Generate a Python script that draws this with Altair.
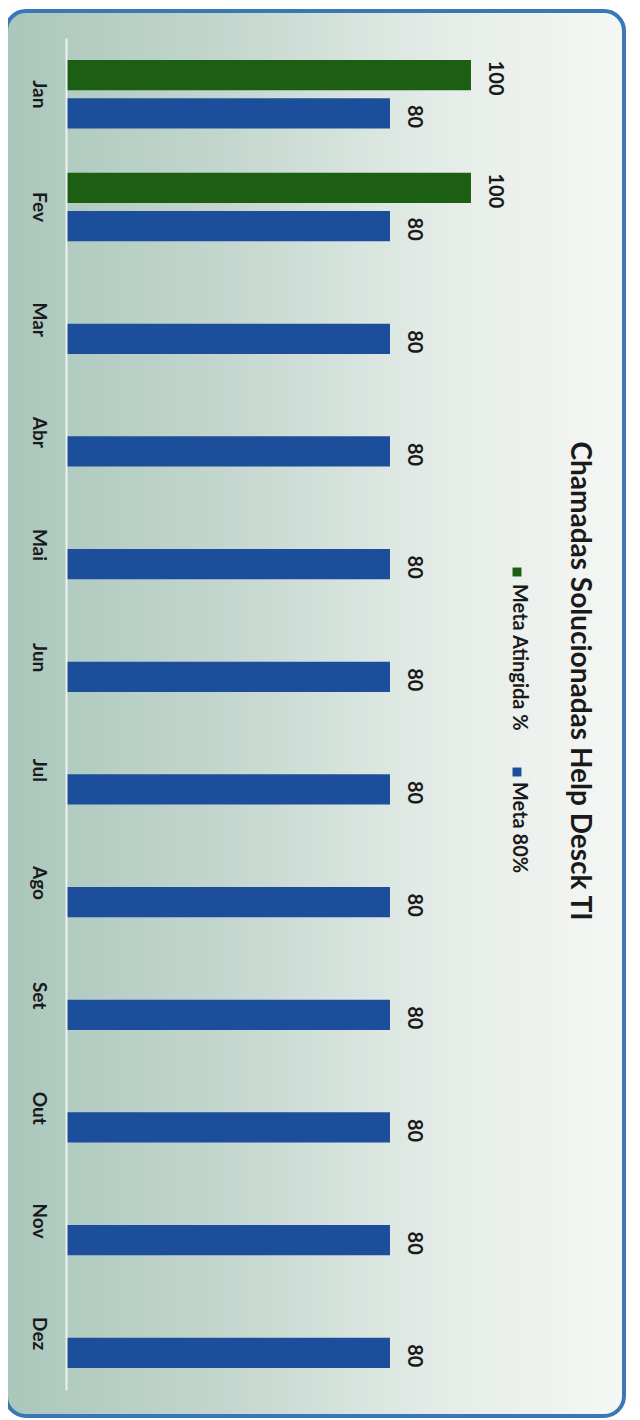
import altair as alt
import pandas as pd

# ---- data ----
months = ["Jan", "Fev", "Mar", "Abr", "Mai", "Jun", "Jul", "Ago", "Set", "Out", "Nov", "Dez"]
meta_atingida = [100, 100, None, None, None, None, None, None, None, None, None, None]
meta_80 = [80, 80, 80, 80, 80, 80, 80, 80, 80, 80, 80, 80]
series_names = ["Meta Atingida %", "Meta 80%"]
series_colors = ["#1c5e12", "#1d4e9c"]
title_text = "Chamadas Solucionadas Help Desck TI"

rows = []
for m, a, b in zip(months, meta_atingida, meta_80):
    if a is not None:
        rows.append({"mes": m, "serie": series_names[0], "valor": a})
    if b is not None:
        rows.append({"mes": m, "serie": series_names[1], "valor": b})
df = pd.DataFrame(rows)
one = pd.DataFrame({"k": [0]})

W, H = 554, 1352
FONT = "Lato"

y_enc = alt.Y("mes:N", sort=months,
              scale=alt.Scale(paddingInner=0.32, paddingOuter=0.16),
              axis=alt.Axis(title=None, labelAngle=90, labelAlign="center",
                            labelBaseline="top", labelPadding=19, ticks=False,
                            domainColor="#eef3f0", domainWidth=2, zindex=1,
                            labelFont=FONT, labelFontSize=19, labelFontWeight="bold",
                            labelColor="#1a1a1a", grid=False))
yoff_enc = alt.YOffset("serie:N", sort=series_names,
                       scale=alt.Scale(domain=series_names, paddingInner=0.21, paddingOuter=0.105))
x_enc = alt.X("valor:Q", scale=alt.Scale(domain=[0, 136.8], nice=False, zero=True), axis=None)
color_enc = alt.Color("serie:N", scale=alt.Scale(domain=series_names, range=series_colors), legend=None)

frame = alt.Chart(one).mark_rect(
    cornerRadius=20, stroke="#3a78b5", strokeWidth=4,
    fill=alt.LinearGradient(gradient="linear", x1=0, x2=1, y1=0, y2=0, stops=[
        alt.GradientStop(color="#aac7bb", offset=0),
        alt.GradientStop(color="#c3d6ce", offset=0.35),
        alt.GradientStop(color="#e4ece8", offset=0.7),
        alt.GradientStop(color="#f6f7f4", offset=1),
    ])
).encode(x=alt.value(-60), x2=alt.value(558), y=alt.value(-27), y2=alt.value(1378))

bars = alt.Chart(df).mark_bar().encode(y=y_enc, yOffset=yoff_enc, x=x_enc, color=color_enc)

labels = alt.Chart(df).mark_text(
    angle=90, align="center", baseline="bottom", dy=-14, dx=3,
    font=FONT, fontSize=20, fontWeight="bold", color="#1a1a1a"
).encode(y=y_enc, yOffset=yoff_enc, x=x_enc, text=alt.Text("valor:Q"))

title = alt.Chart(one).mark_text(
    angle=90, align="center", baseline="middle",
    font=FONT, fontSize=28, fontWeight="bold", color="#1a1a1a", text=title_text
).encode(x=alt.value(513), y=alt.value(643))

leg_sq1 = alt.Chart(one).mark_square(size=80, color=series_colors[0], opacity=1).encode(
    x=alt.value(451), y=alt.value(534))
leg_sq2 = alt.Chart(one).mark_square(size=80, color=series_colors[1], opacity=1).encode(
    x=alt.value(451), y=alt.value(734))
leg_t1 = alt.Chart(one).mark_text(
    angle=90, align="left", baseline="middle", font=FONT, fontSize=20,
    fontWeight="bold", color="#1a1a1a", text=series_names[0]
).encode(x=alt.value(453), y=alt.value(546))
leg_t2 = alt.Chart(one).mark_text(
    angle=90, align="left", baseline="middle", font=FONT, fontSize=20,
    fontWeight="bold", color="#1a1a1a", text=series_names[1]
).encode(x=alt.value(453), y=alt.value(744))

chart = alt.layer(frame, bars, labels, title, leg_sq1, leg_sq2, leg_t1, leg_t2).properties(
    width=W, height=H,
    autosize=alt.AutoSizeParams(type="none"),
    padding={"left": 58, "top": 30, "right": 10, "bottom": 30},
).configure_view(stroke=None)

chart.save("out.html", embed_options={"renderer": "svg", "actions": False})
